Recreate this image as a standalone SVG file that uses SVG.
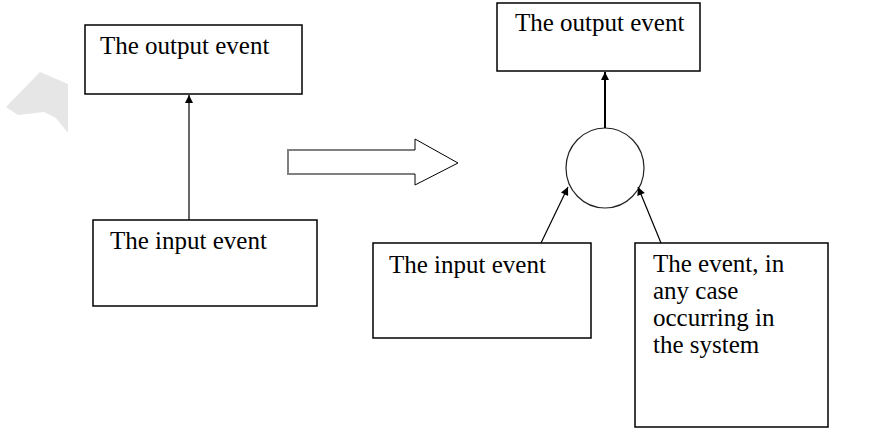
<svg xmlns="http://www.w3.org/2000/svg" width="892" height="438" viewBox="0 0 892 438">
<style>
.box{fill:#fff;stroke:#000;stroke-width:1.5}
.t{font-family:"Liberation Serif","Times New Roman",serif;font-size:25px;fill:#000}
.ln{stroke:#000;fill:none}
</style>
<defs>
<marker id="ah" viewBox="0 0 10 10" refX="10" refY="5" markerWidth="9" markerHeight="8" markerUnits="userSpaceOnUse" orient="auto">
<path d="M0,0 L10,5 L0,10 z" fill="#000"/>
</marker>
</defs>
<rect width="892" height="438" fill="#fff"/>
<polygon points="40,72 68,84 68,133 56,118 44,112 18,115 6,107" fill="#e6e6e6"/>
<g id="left-output">
<rect class="box" x="85" y="25" width="217" height="69"/>
<text class="t" x="100" y="54">The output event</text>
</g>
<g id="left-input">
<rect class="box" x="93" y="220" width="224" height="86"/>
<text class="t" x="110" y="249">The input event</text>
</g>
<g id="transform-arrow">
<polyline points="415,150 288,150 288,174 415,174" fill="none" stroke="#808080" stroke-width="2"/>
<polyline points="415,150 415,139 458,163 415,185 415,174" fill="none" stroke="#000" stroke-width="1"/>
</g>
<g id="right-output">
<rect class="box" x="497" y="3" width="203" height="68"/>
<text class="t" x="515" y="31">The output event</text>
</g>
<g id="combiner">
<ellipse cx="605" cy="168" rx="39" ry="40" fill="#fff" stroke="#222" stroke-width="1.2"/>
</g>
<g id="right-input">
<rect class="box" x="373" y="243" width="218" height="95"/>
<text class="t" x="389" y="273">The input event</text>
</g>
<g id="system-event">
<rect class="box" x="635" y="243" width="193" height="184"/>
<text class="t" x="653" y="272">The event, in</text>
<text class="t" x="653" y="299">any case</text>
<text class="t" x="653" y="326">occurring in</text>
<text class="t" x="653" y="353">the system</text>
</g>
<g id="connectors">
<line class="ln" x1="189" y1="220" x2="189" y2="95" stroke-width="1.2" marker-end="url(#ah)"/>
<line class="ln" x1="605" y1="128" x2="605" y2="72" stroke-width="2" marker-end="url(#ah)"/>
<line class="ln" x1="541" y1="243" x2="568" y2="187" stroke-width="1.2" marker-end="url(#ah)"/>
<line class="ln" x1="661" y1="243" x2="638" y2="187" stroke-width="1.2" marker-end="url(#ah)"/>
</g>
</svg>
